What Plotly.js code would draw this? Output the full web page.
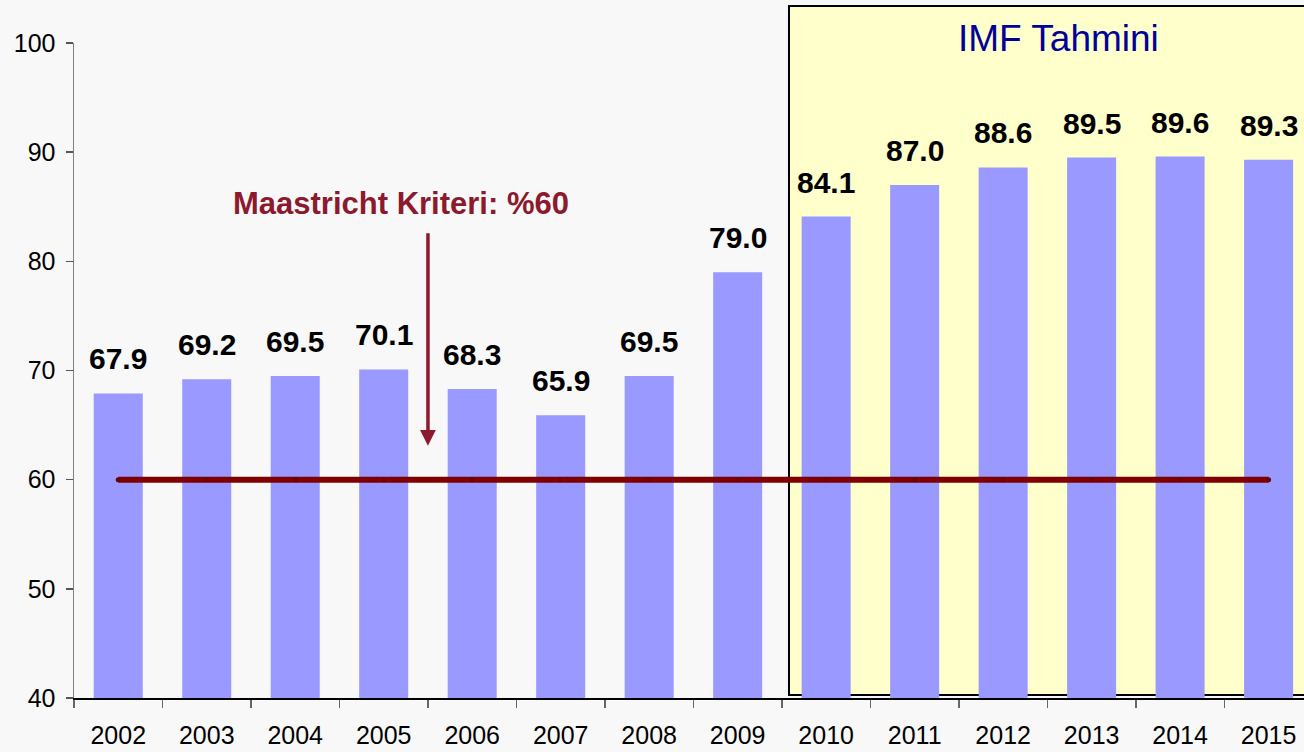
<!DOCTYPE html>
<html>
<head>
<meta charset="utf-8">
<script src="https://cdn.plot.ly/plotly-3.0.1.min.js"></script>
<style>
  html, body { margin: 0; padding: 0; background: #f8f8f8; }
  #chart { width: 1304px; height: 752px; }
</style>
</head>
<body>
<div id="chart"></div>
<script>
const years = ['2002', '2003', '2004', '2005', '2006', '2007', '2008', '2009',
               '2010', '2011', '2012', '2013', '2014', '2015'];
const debt = [67.9, 69.2, 69.5, 70.1, 68.3, 65.9, 69.5, 79.0,
              84.1, 87.0, 88.6, 89.5, 89.6, 89.3];
const criterion = years.map(() => 60);
const yTicks = [40, 50, 60, 70, 80, 90, 100];

const barTrace = {
  type: 'bar', x: years, y: debt,
  marker: { color: '#9999ff' },
  hoverinfo: 'x+y'
};

// Maastricht line
const lineTrace = {
  type: 'scatter', mode: 'lines+markers', x: years, y: criterion,
  line: { color: '#800000', width: 6 },
  marker: { color: '#6a0000', size: 5 },
  cliponaxis: false
};

// value labels above the bars (category index, '2002' would be read as a serial number)
const valueLabels = years.map((yr, i) => ({
  x: i, y: debt[i], xref: 'x', yref: 'y',
  text: debt[i].toFixed(1), showarrow: false,
  yanchor: 'bottom', yshift: 16,
  font: { family: 'Arial, Liberation Sans, sans-serif', size: 30, color: '#000', weight: 'bold' }
}));

const layout = {
  width: 1304, height: 752,
  margin: { l: 74, r: 0, t: 43, b: 54 },
  paper_bgcolor: '#f8f8f8',
  plot_bgcolor: 'rgba(0,0,0,0)',
  showlegend: false,
  bargap: 0.446,
  font: { family: 'Arial, Liberation Sans, sans-serif', color: '#000' },
  xaxis: {
    type: 'category', range: [-0.5, 13.4],
    showgrid: false, zeroline: false,
    showline: true, linecolor: '#000', linewidth: 1.5,
    ticks: 'outside', tickson: 'boundaries', ticklen: 8, tickcolor: '#666', tickwidth: 1.5,
    ticklabelstandoff: 14,
    tickfont: { size: 25, color: '#000' }
  },
  yaxis: {
    range: [40, 100], tickvals: yTicks,
    showgrid: false, zeroline: false,
    showline: true, linecolor: '#808080', linewidth: 1.5,
    ticks: 'outside', ticklen: 7, tickcolor: '#555', tickwidth: 1.5,
    ticklabelstandoff: 5,
    tickfont: { size: 25, color: '#000' }
  },
  shapes: [
    { type: 'rect', layer: 'below', xref: 'x', yref: 'paper',
      x0: 7.58, x1: 14, y0: 0.0046, y1: 1.0565,
      fillcolor: '#ffffcc', line: { color: '#000', width: 2 } }
  ],
  annotations: valueLabels.concat([
    { x: 10.62, y: 1.0076, xref: 'x', yref: 'paper', yanchor: 'middle', showarrow: false,
      text: 'IMF Tahmini', font: { size: 37, color: '#000099' } },
    { x: 3.195, y: 85.34, xref: 'x', yref: 'y', yanchor: 'middle', showarrow: false,
      text: 'Maastricht Kriteri: %60',
      font: { size: 31, color: '#8c1a2e', weight: 'bold' } },
    { x: 3.5, y: 63.1, xref: 'x', yref: 'y', text: '',
      showarrow: true, axref: 'x', ayref: 'y', ax: 3.5, ay: 82.7,
      arrowhead: 2, arrowsize: 0.9, arrowwidth: 3.5, arrowcolor: '#8c1a2e' }
  ])
};

Plotly.newPlot('chart', [barTrace, lineTrace], layout, { displayModeBar: false, staticPlot: true });
</script>
</body>
</html>
